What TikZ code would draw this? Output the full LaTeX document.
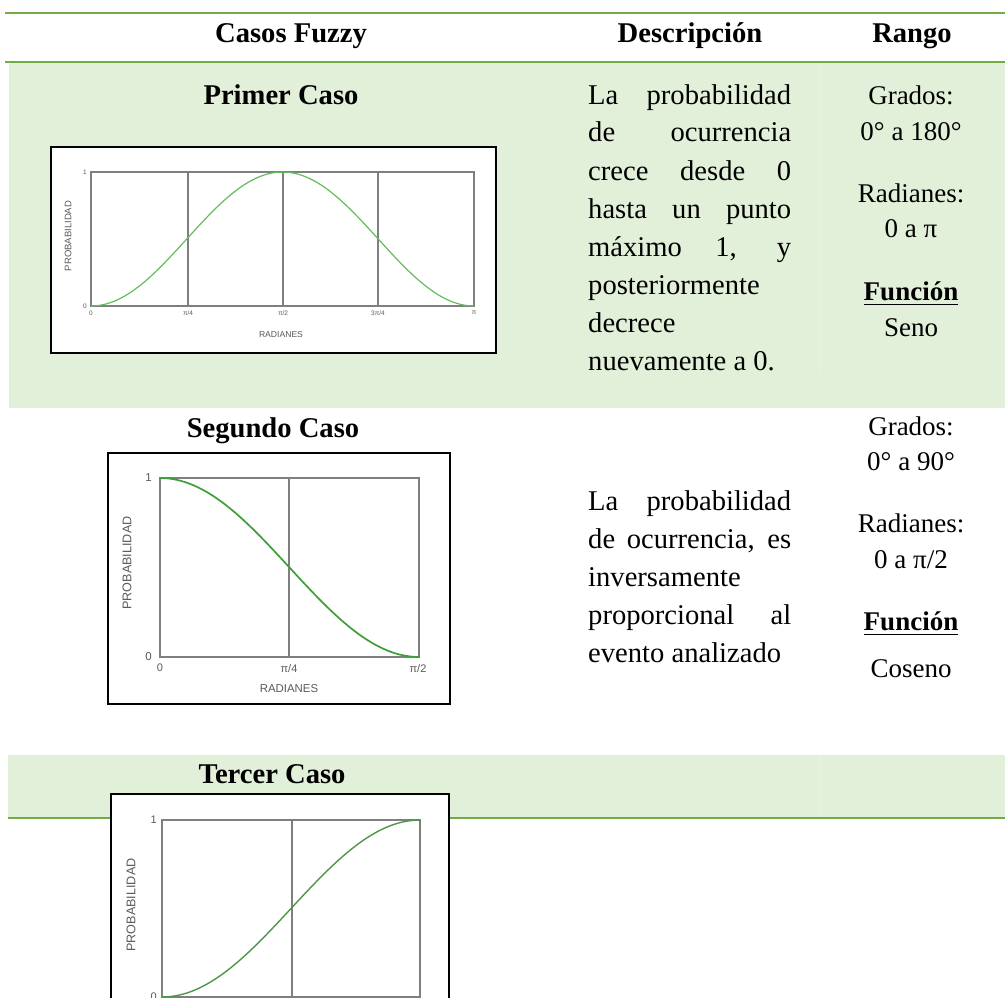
\documentclass[tikz,border=0pt]{standalone}
\usepackage{fontspec}
\setmainfont{Liberation Serif}
\newfontfamily\chartfont{Liberation Sans}

\definecolor{bandgreen}{HTML}{E2EFD9}
\definecolor{seamgreen}{HTML}{EAF4E4}
\definecolor{rulegreen}{HTML}{70AD47}
\definecolor{gridgray}{HTML}{7F7F7F}
\definecolor{labelgray}{HTML}{5A5A5A}
\definecolor{curvelight}{HTML}{62BD5A}
\definecolor{curvedark}{HTML}{3E9E3A}

\tikzset{
  rulebar/.style={draw=rulegreen, line width=2.2pt},
  band/.style={fill=bandgreen, draw=none},
  seam/.style={draw=seamgreen, line width=0.8pt},
  head/.style={font=\fontsize{28.6}{34}\selectfont\bfseries, inner sep=0pt, anchor=base},
  body/.style={font=\fontsize{28.6}{34}\selectfont, inner sep=0pt, anchor=base west},
  rango/.style={font=\fontsize{27}{32}\selectfont, inner sep=0pt, anchor=base},
  rangohead/.style={font=\fontsize{27}{32}\selectfont\bfseries, inner sep=0pt, anchor=base},
  chartframe/.style={draw=black, line width=1.6pt, fill=white},
  plotbox/.style={draw=gridgray, line width=1.1pt},
  gridline/.style={draw=gridgray, line width=1.1pt},
  tick/.style={text=labelgray, inner sep=0pt, font=\chartfont\fontsize{#1}{#1}\selectfont},
  tick/.default=7,
  curve/.style={line width=#1},
}

\newcommand{\fullline}[1]{\makebox[203pt][s]{#1}}

\begin{document}
\begin{tikzpicture}[x=1pt,y=-1pt]
  \useasboundingbox (0,0) rectangle (1005,998);
  \clip (0,0) rectangle (1005,998);

  % shaded rows
  \path[band] (9,62) rectangle (1005,408);
  \path[band] (8,755) rectangle (1005,817);
  \draw[seam] (819,64) -- (819,372);
  \draw[seam] (819,756) -- (819,816);

  % table rules
  \draw[rulebar] (5,13) -- (1005,13);
  \draw[rulebar] (5,62) -- (1005,62);
  \draw[rulebar] (8,818) -- (1005,818);

  % header
  \node[head] (hcasos) at (291,43) {Casos Fuzzy};
  \node[head] (hdesc) at (690,43) {Descripción};
  \node[head] (hrango) at (912,43) {Rango};

  % ---------- first case ----------
  \node[head] (t1) at (281,104) {Primer Caso};

  \node[chartframe, minimum width=445pt, minimum height=206pt, inner sep=0pt] (c1) at (273.5,250) {};
  \draw[plotbox] (91,172) rectangle (474,306);
  \foreach \gx in {188,283,378} \draw[gridline] (\gx,172) -- (\gx,306);
  \draw[curvelight, curve=1.2pt] plot[domain=0:180, samples=90, smooth]
    ({91+\x/180*383}, {306-134*sin(\x)*sin(\x)});
  \node[tick=6.5, anchor=east] (c1y1) at (87,172) {1};
  \node[tick=6.5, anchor=east] (c1y0) at (87,306) {0};
  \node[tick=6.5, anchor=north] (c1x0) at (91,311) {0};
  \node[tick=6.5, anchor=north] (c1x1) at (188,311) {π/4};
  \node[tick=6.5, anchor=north] (c1x2) at (283,311) {π/2};
  \node[tick=6.5, anchor=north] (c1x3) at (378,311) {3π/4};
  \node[tick=6.5, anchor=north] (c1x4) at (474,311) {π};
  \node[tick=8.6] (c1xl) at (281,335) {RADIANES};
  \node[tick=9.5, rotate=90] (c1yl) at (68,236) {PROBABILIDAD};

  \node[body] (d1a) at (588,104) {\fullline{La probabilidad}};
  \node[body] (d1b) at (588,142) {\fullline{de ocurrencia}};
  \node[body] (d1c) at (588,180) {\fullline{crece desde 0}};
  \node[body] (d1d) at (588,218) {\fullline{hasta un punto}};
  \node[body] (d1e) at (588,256) {\fullline{máximo 1, y}};
  \node[body] (d1f) at (588,294) {posteriormente};
  \node[body] (d1g) at (588,332) {decrece};
  \node[body] (d1h) at (588,370) {nuevamente a 0.};

  \node[rango] (r1a) at (911,105) {Grados:};
  \node[rango] (r1b) at (911,140) {0° a 180°};
  \node[rango] (r1c) at (911,202) {Radianes:};
  \node[rango] (r1d) at (911,237) {0 a π};
  \node[rangohead] (r1e) at (911,300) {Función};
  \draw[line width=1.8pt] ([yshift=-4.5pt]r1e.base west) -- ([yshift=-4.5pt]r1e.base east);
  \node[rango] (r1f) at (911,336) {Seno};

  % ---------- second case ----------
  \node[head] (t2) at (273,437) {Segundo Caso};

  \node[chartframe, minimum width=342pt, minimum height=251pt, inner sep=0pt] (c2) at (279,578.5) {};
  \draw[plotbox] (160,478) rectangle (419,657);
  \draw[gridline] (289,478) -- (289,657);
  \draw[curvedark, curve=1.7pt] plot[domain=0:90, samples=60, smooth]
    ({160+\x/90*259}, {657-179*cos(\x)*cos(\x)});
  \node[tick=11.5, anchor=east] (c2y1) at (152,478) {1};
  \node[tick=11.5, anchor=east] (c2y0) at (152,657) {0};
  \node[tick=11] (c2x0) at (160,668) {0};
  \node[tick=11] (c2x1) at (289,669) {π/4};
  \node[tick=11] (c2x2) at (418,669) {π/2};
  \node[tick=11.4] (c2xl) at (289,689) {RADIANES};
  \node[tick=12.6, rotate=90] (c2yl) at (127,563) {PROBABILIDAD};

  \node[body] (d2a) at (588,510) {\fullline{La probabilidad}};
  \node[body] (d2b) at (588,548) {\fullline{de ocurrencia, es}};
  \node[body] (d2c) at (588,586) {inversamente};
  \node[body] (d2d) at (588,624) {\fullline{proporcional al}};
  \node[body] (d2e) at (588,662) {evento analizado};

  \node[rango] (r2a) at (911,435) {Grados:};
  \node[rango] (r2b) at (911,470) {0° a 90°};
  \node[rango] (r2c) at (911,532) {Radianes:};
  \node[rango] (r2d) at (911,568) {0 a π/2};
  \node[rangohead] (r2e) at (911,630) {Función};
  \draw[line width=1.8pt] ([yshift=-4.5pt]r2e.base west) -- ([yshift=-4.5pt]r2e.base east);
  \node[rango] (r2f) at (911,677) {Coseno};

  % ---------- third case ----------
  \node[head] (t3) at (272,783) {Tercer Caso};

  \node[chartframe, minimum width=338pt, minimum height=230pt, inner sep=0pt] (c3) at (280,909) {};
  \draw[plotbox] (162,820) rectangle (420,997);
  \draw[gridline] (292,820) -- (292,997);
  \draw[curvelight!80!black, curve=1.4pt] plot[domain=0:90, samples=60, smooth]
    ({162+\x/90*258}, {997-177*sin(\x)*sin(\x)});
  \node[tick=11, anchor=east] (c3y1) at (157,820) {1};
  \node[tick=11, anchor=east] (c3y0) at (157,997) {0};
  \node[tick=12.6, rotate=90] (c3yl) at (131,905) {PROBABILIDAD};
\end{tikzpicture}
\end{document}
